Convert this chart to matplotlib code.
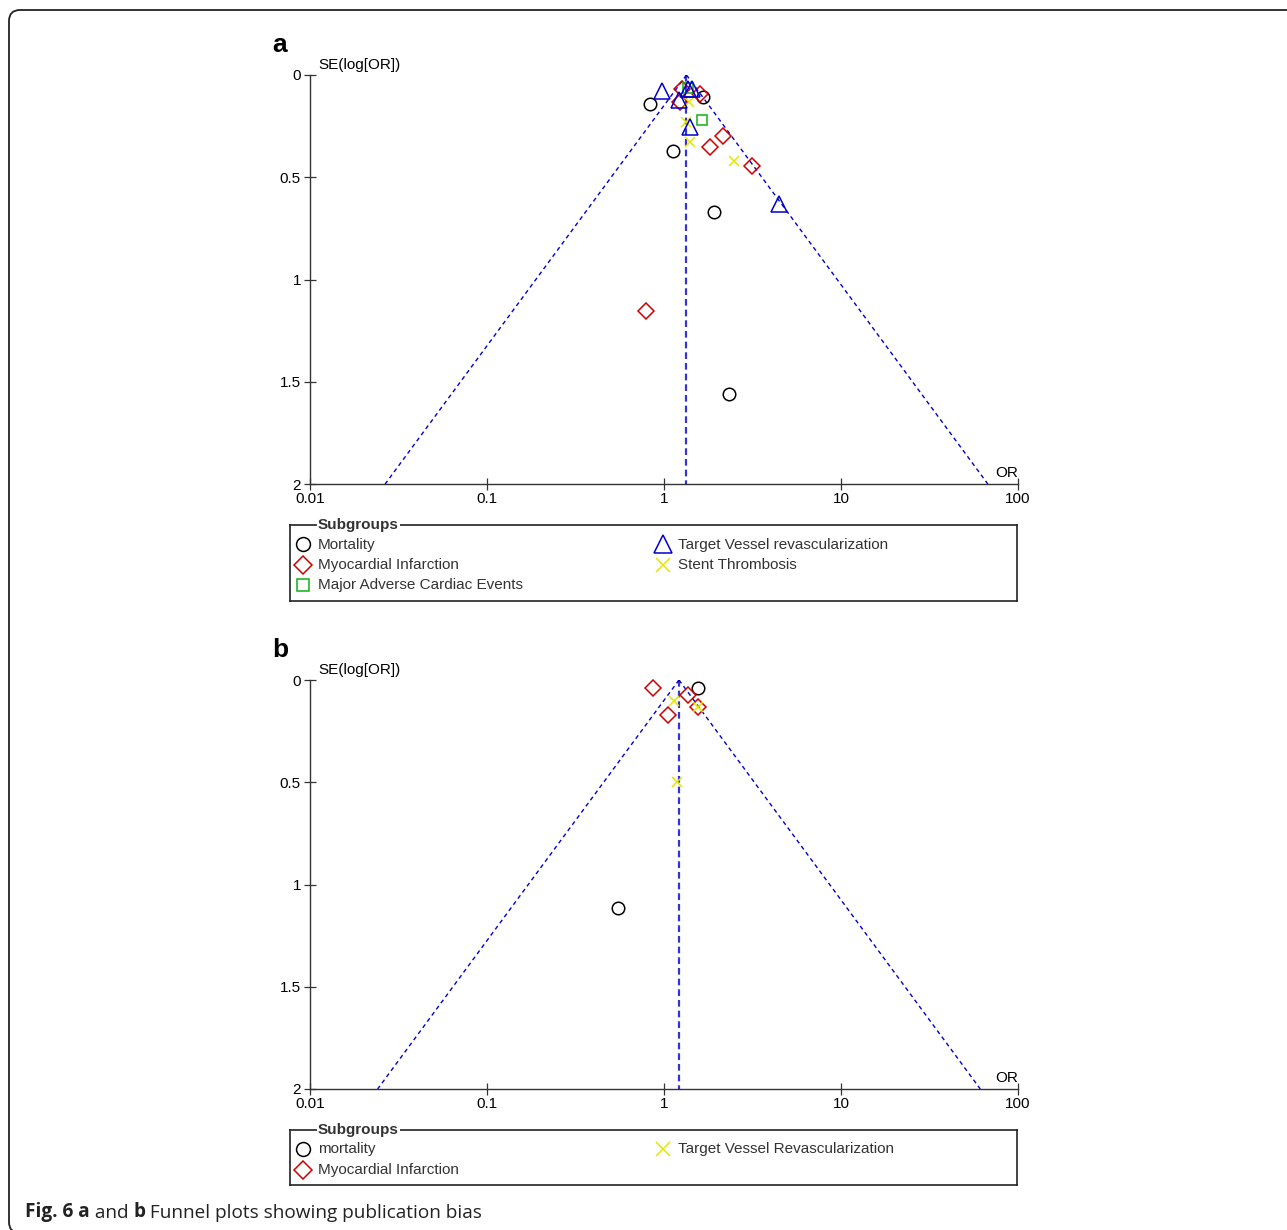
import numpy as np
import matplotlib.pyplot as plt
from matplotlib.patches import FancyBboxPatch
from matplotlib.ticker import NullLocator

plt.rcParams['font.family'] = ['Liberation Sans', 'DejaVu Sans']

W, H = 1287, 1230

# ---- data: odds ratio and SE(log OR) per study ----
# panel a
pooled_a = 1.34
mort_a_or = [0.83, 1.12, 1.66, 1.92, 2.33]
mort_a_se = [0.14, 0.37, 0.11, 0.67, 1.56]
mi_a_or = [0.79, 2.15, 1.82, 3.14, 1.23, 1.60, 1.26]
mi_a_se = [1.155, 0.30, 0.35, 0.445, 0.13, 0.095, 0.07]
mace_a_or = [1.64, 1.36]
mace_a_se = [0.22, 0.065]
tvr_a_or = [0.97, 1.40, 4.46, 1.22, 1.37, 1.44]
tvr_a_se = [0.08, 0.255, 0.63, 0.12, 0.07, 0.07]
st_a_or = [1.33, 1.40, 2.49, 1.39]
st_a_se = [0.23, 0.33, 0.42, 0.13]

# panel b
pooled_b = 1.215
mort_b_or = [1.55, 0.55]
mort_b_se = [0.037, 1.115]
mi_b_or = [0.867, 1.36, 1.55, 1.047]
mi_b_se = [0.037, 0.071, 0.134, 0.173]
tvr_b_or = [1.14, 1.55, 1.18]
tvr_b_se = [0.103, 0.134, 0.499]

labels_a = ["Mortality", "Myocardial Infarction", "Major Adverse Cardiac Events",
            "Target Vessel revascularization", "Stent Thrombosis"]
labels_b = ["mortality", "Myocardial Infarction", "Target Vessel Revascularization"]

x_ticks = [0.01, 0.1, 1, 10, 100]
x_ticklabels = ["0.01", "0.1", "1", "10", "100"]
y_ticks = [0, 0.5, 1, 1.5, 2]
y_ticklabels = ["0", "0.5", "1", "1.5", "2"]

# marker styles: (marker, colour, size in plot, size in legend)
STY = {
    "circle": ("o", "black", 9, 10),
    "diamond": ("D", "#d00000", 8.3, 9.5),
    "square": ("s", "#10b010", 7.9, 9.2),
    "triangle": ("^", "#0000cc", 11.3, 13.5),
    "cross": ("x", "#e6e600", 7.7, 10),
}

TXT = "#333333"


def funnel(ax, pooled, groups, letter):
    ax.set_xscale("log")
    ax.set_xlim(0.01, 100)
    ax.set_ylim(2, 0)

    # 95% pseudo-confidence limits around the pooled estimate
    se = np.array([0.0, 2.0])
    lo = np.exp(np.log(pooled) - 1.96 * se)
    hi = np.exp(np.log(pooled) + 1.96 * se)
    ax.plot(lo, se, color="#0000cc", lw=1.0, ls=(0, (3, 2.5)), zorder=1)
    ax.plot(hi, se, color="#0000cc", lw=1.0, ls=(0, (3, 2.5)), zorder=1)
    ax.plot([pooled, pooled], se, color="#0000cc", lw=1.6, ls=(0, (3, 1.8)),
            alpha=0.8, zorder=1)

    for kind, ors, ses in groups:
        m, c, ms, _ = STY[kind]
        ax.plot(ors, ses, ls="none", marker=m, ms=ms, mfc="none", mec=c,
                mew=1.1, clip_on=False, zorder=3)

    ax.set_xticks(x_ticks)
    ax.set_xticklabels(x_ticklabels)
    ax.xaxis.set_minor_locator(NullLocator())
    ax.set_yticks(y_ticks)
    ax.set_yticklabels(y_ticklabels)
    ax.tick_params(axis="y", direction="inout", length=9, width=0.9,
                   pad=2, labelsize=11, color="#333333")
    ax.tick_params(axis="x", direction="inout", length=8, width=0.9,
                   pad=1.5, labelsize=11, color="#333333")
    for s in ("top", "right"):
        ax.spines[s].set_visible(False)
    for s in ("left", "bottom"):
        ax.spines[s].set_color("#333333")
        ax.spines[s].set_linewidth(1.0)

    ax.annotate("SE(log[OR])", xy=(0, 1), xycoords="axes fraction",
                xytext=(6, 2), textcoords="offset points",
                ha="left", va="bottom", fontsize=11, color="black")
    ax.annotate("OR", xy=(1, 0), xycoords="axes fraction",
                xytext=(0, 3), textcoords="offset points",
                ha="right", va="bottom", fontsize=11, color="black")
    ax.annotate(letter, xy=(0, 1), xycoords="axes fraction",
                xytext=(-27, 13), textcoords="offset points",
                ha="left", va="bottom", fontsize=19, fontweight="bold")


def legend_box(rect, rows, title="Subgroups"):
    x0, y0, x1, y1 = rect
    lax = fig.add_axes([x0 / W, 1 - y1 / H, (x1 - x0) / W, (y1 - y0) / H])
    lax.set_xlim(0, x1 - x0)
    lax.set_ylim(y1 - y0, 0)
    lax.set_xticks([])
    lax.set_yticks([])
    for sp in lax.spines.values():
        sp.set_linewidth(1.2)
        sp.set_color("#222222")
    lax.text(28, 0, title, ha="left", va="center", fontsize=11,
             fontweight="bold", color=TXT, zorder=5, clip_on=False,
             bbox=dict(facecolor="white", edgecolor="none", pad=1))
    for col, row, kind, label in rows:
        m, c, _, lms = STY[kind]
        xm = 13 + col * 360
        yr = 19 + row * 20.5
        lax.plot([xm], [yr], ls="none", marker=m, ms=lms, mfc="none", mec=c,
                 mew=1.1, clip_on=False)
        lax.text(xm + 15, yr + 0.5, label, ha="left", va="center",
                 fontsize=11, color=TXT)


fig = plt.figure(figsize=(W / 100, H / 100), dpi=100)

# outer rounded frame
frame = FancyBboxPatch((0.09, -0.03), 13.5, 12.2 + 0.03,
                       boxstyle="round,pad=0,rounding_size=0.11",
                       transform=fig.dpi_scale_trans, fill=False,
                       ec="#222222", lw=1.3)
fig.patches.append(frame)

ax_a = fig.add_axes([310 / W, 1 - 484 / H, 708 / W, 409 / H])
funnel(ax_a, pooled_a, [
    ("circle", mort_a_or, mort_a_se),
    ("diamond", mi_a_or, mi_a_se),
    ("square", mace_a_or, mace_a_se),
    ("cross", st_a_or, st_a_se),
    ("triangle", tvr_a_or, tvr_a_se),
], "a")

ax_b = fig.add_axes([310 / W, 1 - 1089 / H, 708 / W, 409 / H])
funnel(ax_b, pooled_b, [
    ("circle", mort_b_or, mort_b_se),
    ("diamond", mi_b_or, mi_b_se),
    ("cross", tvr_b_or, tvr_b_se),
], "b")

legend_box((290, 525, 1017, 601), [
    (0, 0, "circle", labels_a[0]),
    (0, 1, "diamond", labels_a[1]),
    (0, 2, "square", labels_a[2]),
    (1, 0, "triangle", labels_a[3]),
    (1, 1, "cross", labels_a[4]),
])
legend_box((290, 1130, 1017, 1185), [
    (0, 0, "circle", labels_b[0]),
    (0, 1, "diamond", labels_b[1]),
    (1, 0, "cross", labels_b[2]),
])

# caption with mixed weights, each piece chained to the previous one
cap_font = ["Open Sans", "DejaVu Sans"]
parts = [("Fig. 6 a", "bold"), (" and ", "normal"), ("b", "bold"),
         (" Funnel plots showing publication bias", "normal")]
last = fig.text(25 / W, 1 - 1222 / H, parts[0][0], fontsize=13.7,
                fontweight=parts[0][1], family=cap_font, color="#222222",
                ha="left", va="bottom")
for txt, wt in parts[1:]:
    last = fig.add_artist(plt.Annotation(txt, xy=(1, 0), xycoords=last,
                                         ha="left", va="bottom", fontsize=13.7,
                                         fontweight=wt, family=cap_font,
                                         color="#222222"))

fig.savefig("out.png", dpi=100)
